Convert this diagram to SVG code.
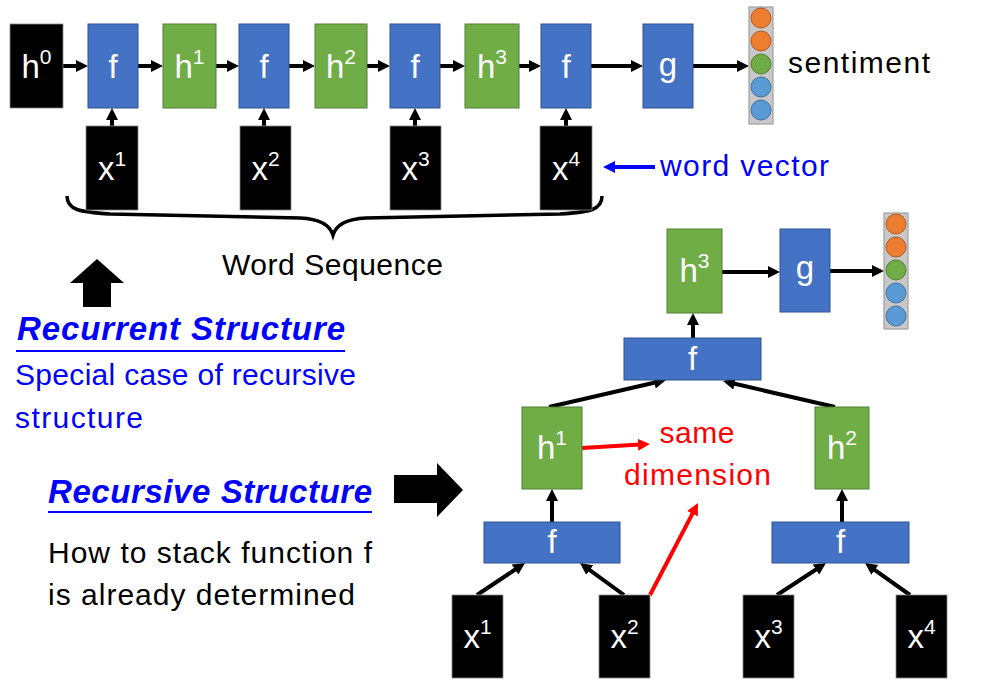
<svg xmlns="http://www.w3.org/2000/svg" width="993" height="689" viewBox="0 0 993 689">
<defs>
<style>
.f{fill:#4472C4;stroke:#2F528F;stroke-width:1}
.h{fill:#70AD47;stroke:#507E32;stroke-width:1}
.k{fill:#000;stroke:#888;stroke-width:0.8}
.vec{fill:#C8C8C8;stroke:#A0A0A0;stroke-width:1.2}
.o{fill:#ED7D31;stroke:#AE5A21;stroke-width:1}
.gr{fill:#70AD47;stroke:#507E32;stroke-width:1}
.b{fill:#5B9BD5;stroke:#41719C;stroke-width:1}
.lab{font-family:"Liberation Sans",Arial,sans-serif;font-size:33px;fill:#fff;text-anchor:middle}
.sup{font-size:21px}
.ar{stroke:#000;stroke-width:4;fill:none;marker-end:url(#ah)}
.ra{stroke:#FF0000;stroke-width:4;fill:none;marker-end:url(#rh)}
.ba{stroke:#0000FF;stroke-width:4;fill:none;marker-end:url(#bh)}
.txt{font-family:"Liberation Sans",Arial,sans-serif;font-size:30px}
.title{font-family:"Liberation Sans",Arial,sans-serif;font-size:33px;font-weight:bold;font-style:italic;fill:#0000FF}
</style>
<marker id="ah" markerUnits="userSpaceOnUse" markerWidth="12" markerHeight="12" refX="2" refY="6" orient="auto"><path d="M0,0 L12,6 L0,12 z" fill="#000"/></marker>
<marker id="rh" markerUnits="userSpaceOnUse" markerWidth="12" markerHeight="12" refX="2" refY="6" orient="auto"><path d="M0,0 L12,6 L0,12 z" fill="#FF0000"/></marker>
<marker id="bh" markerUnits="userSpaceOnUse" markerWidth="12" markerHeight="12" refX="2" refY="6" orient="auto"><path d="M0,0 L12,6 L0,12 z" fill="#0000FF"/></marker>
</defs>
<rect width="993" height="689" fill="#fff"/>

<!-- connectors -->
<g id="connectors">
<line class="ar" x1="63" y1="66" x2="78" y2="66"/>
<line class="ar" x1="138" y1="66" x2="153" y2="66"/>
<line class="ar" x1="216" y1="66" x2="229" y2="66"/>
<line class="ar" x1="288" y1="66" x2="305" y2="66"/>
<line class="ar" x1="367" y1="66" x2="380" y2="66"/>
<line class="ar" x1="440" y1="66" x2="455" y2="66"/>
<line class="ar" x1="519" y1="66" x2="531" y2="66"/>
<line class="ar" x1="591" y1="66" x2="633" y2="66"/>
<line class="ar" x1="693" y1="66" x2="739" y2="66"/>
<line class="ar" x1="112" y1="126" x2="112" y2="118"/>
<line class="ar" x1="264" y1="126" x2="264" y2="118"/>
<line class="ar" x1="415" y1="126" x2="415" y2="118"/>
<line class="ar" x1="566" y1="126" x2="566" y2="118"/>
<line class="ba" x1="655" y1="167" x2="613" y2="167"/>
<line class="ar" x1="722" y1="272" x2="770" y2="272"/>
<line class="ar" x1="830" y1="271" x2="874" y2="271"/>
<line class="ar" x1="693" y1="338" x2="693" y2="323"/>
<line class="ar" x1="549" y1="407" x2="656.3" y2="382.2"/>
<line class="ar" x1="835" y1="407" x2="732.7" y2="383.3"/>
<line class="ar" x1="552" y1="522" x2="552" y2="499"/>
<line class="ar" x1="842" y1="522" x2="842" y2="499"/>
<line class="ar" x1="477" y1="595" x2="516.7" y2="568.5"/>
<line class="ar" x1="624" y1="595" x2="588.1" y2="568.9"/>
<line class="ar" x1="777" y1="595" x2="817.6" y2="568.5"/>
<line class="ar" x1="910" y1="595" x2="873.2" y2="568.8"/>
<line class="ra" x1="582" y1="448" x2="640" y2="444.6"/>
<line class="ra" x1="650" y1="595" x2="693.4" y2="511.9"/>
<path d="M67,196 C67,210 80,212 110,214 L300,218 C320,219 330,225 333,235 C336,225 346,219 366,218 L560,214 C590,212 602,210 602,196" fill="none" stroke="#000" stroke-width="3.5"/>
</g>

<!-- top row -->
<g id="h0"><rect class="k" x="10" y="24" width="53" height="84"/><text class="lab" x="36.5" y="78">h<tspan class="sup" dy="-14">0</tspan></text></g>
<g id="f1"><rect class="f" x="88" y="24" width="50" height="84"/><text class="lab" x="113" y="78">f</text></g>
<g id="h1"><rect class="h" x="163" y="24" width="53" height="84"/><text class="lab" x="189.5" y="78">h<tspan class="sup" dy="-14">1</tspan></text></g>
<g id="f2"><rect class="f" x="239" y="24" width="50" height="84"/><text class="lab" x="264" y="78">f</text></g>
<g id="h2"><rect class="h" x="315" y="24" width="52" height="84"/><text class="lab" x="341" y="78">h<tspan class="sup" dy="-14">2</tspan></text></g>
<g id="f3"><rect class="f" x="390" y="24" width="50" height="84"/><text class="lab" x="415" y="78">f</text></g>
<g id="h3"><rect class="h" x="465" y="24" width="54" height="84"/><text class="lab" x="492" y="78">h<tspan class="sup" dy="-14">3</tspan></text></g>
<g id="f4"><rect class="f" x="541" y="24" width="50" height="84"/><text class="lab" x="566" y="78">f</text></g>
<g id="g"><rect class="f" x="643" y="24" width="50" height="84"/><text class="lab" x="668" y="76">g</text></g>
<g id="vec1"><rect class="vec" x="749" y="7" width="24" height="117"/>
<circle class="o" cx="761" cy="18" r="10"/><circle class="o" cx="761" cy="41" r="10"/><circle class="gr" cx="761" cy="64" r="10"/><circle class="b" cx="761" cy="87" r="10"/><circle class="b" cx="761" cy="110" r="10"/></g>
<text class="txt" x="788" y="73" font-size="32" textLength="142">sentiment</text>

<g id="x1"><rect class="k" x="86" y="126" width="52" height="84"/><text class="lab" x="112" y="180">x<tspan class="sup" dy="-14">1</tspan></text></g>
<g id="x2"><rect class="k" x="240" y="126" width="51" height="84"/><text class="lab" x="265.5" y="180">x<tspan class="sup" dy="-14">2</tspan></text></g>
<g id="x3"><rect class="k" x="390" y="126" width="51" height="84"/><text class="lab" x="415.5" y="180">x<tspan class="sup" dy="-14">3</tspan></text></g>
<g id="x4"><rect class="k" x="540" y="126" width="52" height="84"/><text class="lab" x="566" y="180">x<tspan class="sup" dy="-14">4</tspan></text></g>
<text class="txt" x="660" y="176" fill="#0000FF" textLength="169">word vector</text>
<text class="txt" x="222" y="275" textLength="221">Word Sequence</text>

<!-- left texts -->
<polygon points="97,259 124,283 111,283 111,307 83,307 83,283 70,283" fill="#000"/>
<text class="title" x="17" y="340" textLength="328">Recurrent Structure</text>
<line x1="16" y1="351" x2="345" y2="351" stroke="#0000FF" stroke-width="2"/>
<text class="txt" x="15" y="385" fill="#0000FF" textLength="341">Special case of recursive</text>
<text class="txt" x="15" y="428" fill="#0000FF" textLength="128">structure</text>
<text class="title" x="48" y="503" textLength="324">Recursive Structure</text>
<line x1="48" y1="512" x2="372" y2="512" stroke="#0000FF" stroke-width="2"/>
<polygon points="394,475 437,475 437,463 463,490 437,517 437,503 394,503" fill="#000"/>
<text class="txt" x="48" y="563" textLength="324">How to stack function f</text>
<text class="txt" x="48" y="605" textLength="307">is already determined</text>

<!-- tree -->
<g id="t_h3"><rect class="h" x="667" y="229" width="55" height="84"/><text class="lab" x="694.5" y="282">h<tspan class="sup" dy="-14">3</tspan></text></g>
<g id="t_g"><rect class="f" x="780" y="229" width="50" height="83"/><text class="lab" x="805" y="279">g</text></g>
<g id="vec2"><rect class="vec" x="884" y="213" width="24" height="116"/>
<circle class="o" cx="896" cy="224" r="10"/><circle class="o" cx="896" cy="247" r="10"/><circle class="gr" cx="896" cy="270" r="10"/><circle class="b" cx="896" cy="293" r="10"/><circle class="b" cx="896" cy="316" r="10"/></g>
<g id="t_f3"><rect class="f" x="624" y="338" width="137" height="42"/><text class="lab" x="692.5" y="370">f</text></g>
<g id="t_h1"><rect class="h" x="522" y="407" width="60" height="82"/><text class="lab" x="552" y="459">h<tspan class="sup" dy="-14">1</tspan></text></g>
<g id="t_h2"><rect class="h" x="815" y="407" width="54" height="82"/><text class="lab" x="842" y="459">h<tspan class="sup" dy="-14">2</tspan></text></g>
<text class="txt" x="697" y="443" fill="#FF0000" text-anchor="middle" textLength="75">same</text>
<text class="txt" x="697.5" y="485" fill="#FF0000" text-anchor="middle" textLength="147">dimension</text>
<g id="t_f1"><rect class="f" x="484" y="522" width="136" height="41"/><text class="lab" x="552" y="553">f</text></g>
<g id="t_f2"><rect class="f" x="772" y="522" width="137" height="41"/><text class="lab" x="840.5" y="553">f</text></g>
<g id="t_x1"><rect class="k" x="452" y="595" width="51" height="83"/><text class="lab" x="477.5" y="648">x<tspan class="sup" dy="-14">1</tspan></text></g>
<g id="t_x2"><rect class="k" x="599" y="595" width="51" height="83"/><text class="lab" x="624.5" y="648">x<tspan class="sup" dy="-14">2</tspan></text></g>
<g id="t_x3"><rect class="k" x="743" y="595" width="51" height="83"/><text class="lab" x="768.5" y="648">x<tspan class="sup" dy="-14">3</tspan></text></g>
<g id="t_x4"><rect class="k" x="896" y="595" width="51" height="83"/><text class="lab" x="921.5" y="648">x<tspan class="sup" dy="-14">4</tspan></text></g>
</svg>
